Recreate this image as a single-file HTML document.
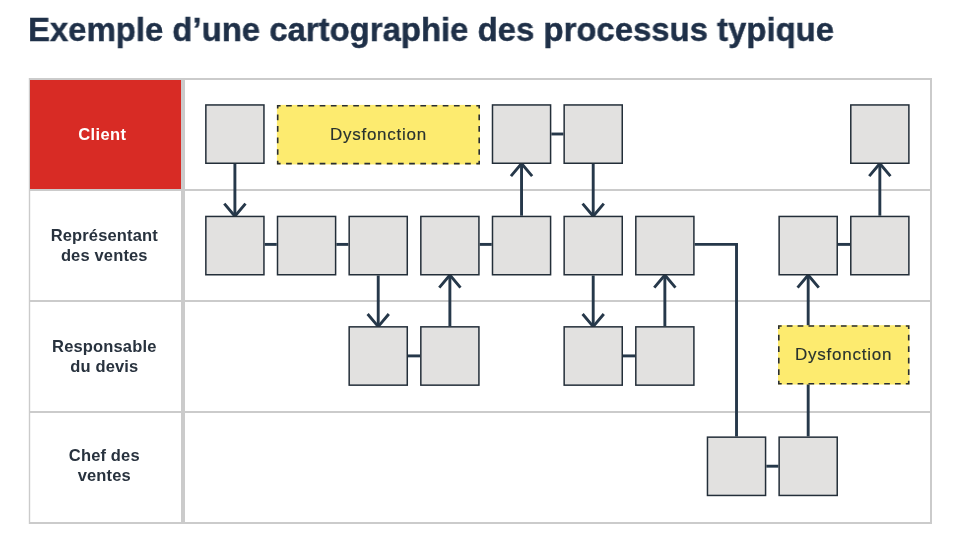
<!DOCTYPE html>
<html><head><meta charset="utf-8"><style>
html,body{margin:0;padding:0;background:#fff;}
body{width:960px;height:540px;position:relative;overflow:hidden;font-family:"Liberation Sans",sans-serif;}
.title,.lab,.dt{will-change:transform;}
svg{position:absolute;left:0;top:0;}
.title{position:absolute;left:28px;top:10.9px;font-weight:bold;font-size:33.4px;color:#1f3048;white-space:nowrap;transform-origin:0 0;transform:scaleX(0.985);-webkit-text-stroke:0.45px #1f3048;}
.lab{position:absolute;left:30px;width:148.6px;text-align:center;font-weight:bold;font-size:16.5px;line-height:19.5px;letter-spacing:0.15px;color:#28323e;}
.dt{position:absolute;height:60px;line-height:62px;text-align:center;font-size:17px;letter-spacing:0.75px;color:#28322f;-webkit-text-stroke:0.15px #28322f;}
</style></head><body>
<div class="title">Exemple d’une cartographie des processus typique</div>
<svg width="960" height="540" viewBox="0 0 960 540">
<rect x="30" y="80" width="151" height="109" fill="#d82b25"/>
<rect x="29" y="78" width="903" height="2" fill="#cbcbcb"/>
<rect x="29" y="189" width="903" height="2" fill="#cbcbcb"/>
<rect x="29" y="300" width="903" height="2" fill="#cbcbcb"/>
<rect x="29" y="411" width="903" height="2" fill="#cbcbcb"/>
<rect x="29" y="522" width="903" height="2" fill="#cbcbcb"/>
<rect x="28.8" y="78" width="1.4" height="446" fill="#cbcbcb"/>
<rect x="930" y="78" width="2" height="446" fill="#cbcbcb"/>
<rect x="181" y="78" width="4" height="446" fill="#cbcbcb"/>
<rect x="30" y="80" width="151" height="109" fill="#d82b25"/>
<line x1="551.34" y1="134.00" x2="563.40" y2="134.00" stroke="#26384a" stroke-width="2.9"/>
<line x1="264.70" y1="244.40" x2="276.76" y2="244.40" stroke="#26384a" stroke-width="2.9"/>
<line x1="336.36" y1="244.40" x2="348.42" y2="244.40" stroke="#26384a" stroke-width="2.9"/>
<line x1="479.68" y1="244.40" x2="491.74" y2="244.40" stroke="#26384a" stroke-width="2.9"/>
<line x1="837.98" y1="244.40" x2="850.04" y2="244.40" stroke="#26384a" stroke-width="2.9"/>
<line x1="408.02" y1="355.90" x2="420.08" y2="355.90" stroke="#26384a" stroke-width="2.9"/>
<line x1="623.00" y1="355.90" x2="635.06" y2="355.90" stroke="#26384a" stroke-width="2.9"/>
<line x1="766.32" y1="466.20" x2="778.38" y2="466.20" stroke="#26384a" stroke-width="2.9"/>
<line x1="234.90" y1="164.00" x2="234.90" y2="215.70" stroke="#26384a" stroke-width="2.9"/><polyline points="224.30,203.60 234.90,216.20 245.50,203.60" fill="none" stroke="#26384a" stroke-width="2.9"/>
<line x1="378.22" y1="275.50" x2="378.22" y2="326.10" stroke="#26384a" stroke-width="2.9"/><polyline points="367.62,314.00 378.22,326.60 388.82,314.00" fill="none" stroke="#26384a" stroke-width="2.9"/>
<line x1="449.88" y1="275.50" x2="449.88" y2="326.10" stroke="#26384a" stroke-width="2.9"/><polyline points="439.28,287.60 449.88,275.00 460.48,287.60" fill="none" stroke="#26384a" stroke-width="2.9"/>
<line x1="521.54" y1="164.00" x2="521.54" y2="215.70" stroke="#26384a" stroke-width="2.9"/><polyline points="510.94,176.10 521.54,163.50 532.14,176.10" fill="none" stroke="#26384a" stroke-width="2.9"/>
<line x1="593.20" y1="164.00" x2="593.20" y2="215.70" stroke="#26384a" stroke-width="2.9"/><polyline points="582.60,203.60 593.20,216.20 603.80,203.60" fill="none" stroke="#26384a" stroke-width="2.9"/>
<line x1="593.20" y1="275.50" x2="593.20" y2="326.10" stroke="#26384a" stroke-width="2.9"/><polyline points="582.60,314.00 593.20,326.60 603.80,314.00" fill="none" stroke="#26384a" stroke-width="2.9"/>
<line x1="664.86" y1="275.50" x2="664.86" y2="326.10" stroke="#26384a" stroke-width="2.9"/><polyline points="654.26,287.60 664.86,275.00 675.46,287.60" fill="none" stroke="#26384a" stroke-width="2.9"/>
<line x1="808.18" y1="275.50" x2="808.18" y2="326.10" stroke="#26384a" stroke-width="2.9"/><polyline points="797.58,287.60 808.18,275.00 818.78,287.60" fill="none" stroke="#26384a" stroke-width="2.9"/>
<line x1="879.84" y1="164.00" x2="879.84" y2="215.70" stroke="#26384a" stroke-width="2.9"/><polyline points="869.24,176.10 879.84,163.50 890.44,176.10" fill="none" stroke="#26384a" stroke-width="2.9"/>
<line x1="808.18" y1="383.5" x2="808.18" y2="436.40" stroke="#26384a" stroke-width="2.9"/>
<polyline points="694.66,244.40 736.52,244.40 736.52,436.40" fill="none" stroke="#26384a" stroke-width="2.9"/>
<rect x="205.85" y="104.95" width="58.10" height="58.30" fill="#e2e1e0" stroke="#232e39" stroke-width="1.5"/>
<rect x="492.49" y="104.95" width="58.10" height="58.30" fill="#e2e1e0" stroke="#232e39" stroke-width="1.5"/>
<rect x="564.15" y="104.95" width="58.10" height="58.30" fill="#e2e1e0" stroke="#232e39" stroke-width="1.5"/>
<rect x="850.79" y="104.95" width="58.10" height="58.30" fill="#e2e1e0" stroke="#232e39" stroke-width="1.5"/>
<rect x="205.85" y="216.45" width="58.10" height="58.30" fill="#e2e1e0" stroke="#232e39" stroke-width="1.5"/>
<rect x="277.51" y="216.45" width="58.10" height="58.30" fill="#e2e1e0" stroke="#232e39" stroke-width="1.5"/>
<rect x="349.17" y="216.45" width="58.10" height="58.30" fill="#e2e1e0" stroke="#232e39" stroke-width="1.5"/>
<rect x="420.83" y="216.45" width="58.10" height="58.30" fill="#e2e1e0" stroke="#232e39" stroke-width="1.5"/>
<rect x="492.49" y="216.45" width="58.10" height="58.30" fill="#e2e1e0" stroke="#232e39" stroke-width="1.5"/>
<rect x="564.15" y="216.45" width="58.10" height="58.30" fill="#e2e1e0" stroke="#232e39" stroke-width="1.5"/>
<rect x="635.81" y="216.45" width="58.10" height="58.30" fill="#e2e1e0" stroke="#232e39" stroke-width="1.5"/>
<rect x="779.13" y="216.45" width="58.10" height="58.30" fill="#e2e1e0" stroke="#232e39" stroke-width="1.5"/>
<rect x="850.79" y="216.45" width="58.10" height="58.30" fill="#e2e1e0" stroke="#232e39" stroke-width="1.5"/>
<rect x="349.17" y="326.85" width="58.10" height="58.30" fill="#e2e1e0" stroke="#232e39" stroke-width="1.5"/>
<rect x="420.83" y="326.85" width="58.10" height="58.30" fill="#e2e1e0" stroke="#232e39" stroke-width="1.5"/>
<rect x="564.15" y="326.85" width="58.10" height="58.30" fill="#e2e1e0" stroke="#232e39" stroke-width="1.5"/>
<rect x="635.81" y="326.85" width="58.10" height="58.30" fill="#e2e1e0" stroke="#232e39" stroke-width="1.5"/>
<rect x="707.47" y="437.15" width="58.10" height="58.30" fill="#e2e1e0" stroke="#232e39" stroke-width="1.5"/>
<rect x="779.13" y="437.15" width="58.10" height="58.30" fill="#e2e1e0" stroke="#232e39" stroke-width="1.5"/>
<rect x="276.90" y="104.90" width="203.10" height="59.50" fill="#fdeb6f"/><path d="M276.90 104.90H280.60v1.6H276.90zM276.90 162.80H280.60v1.6H276.90zM286.09 104.90H291.79v1.6H286.09zM286.09 162.80H291.79v1.6H286.09zM297.28 104.90H302.98v1.6H297.28zM297.28 162.80H302.98v1.6H297.28zM308.47 104.90H314.17v1.6H308.47zM308.47 162.80H314.17v1.6H308.47zM319.66 104.90H325.36v1.6H319.66zM319.66 162.80H325.36v1.6H319.66zM330.84 104.90H336.54v1.6H330.84zM330.84 162.80H336.54v1.6H330.84zM342.03 104.90H347.73v1.6H342.03zM342.03 162.80H347.73v1.6H342.03zM353.22 104.90H358.92v1.6H353.22zM353.22 162.80H358.92v1.6H353.22zM364.41 104.90H370.11v1.6H364.41zM364.41 162.80H370.11v1.6H364.41zM375.60 104.90H381.30v1.6H375.60zM375.60 162.80H381.30v1.6H375.60zM386.79 104.90H392.49v1.6H386.79zM386.79 162.80H392.49v1.6H386.79zM397.98 104.90H403.68v1.6H397.98zM397.98 162.80H403.68v1.6H397.98zM409.17 104.90H414.87v1.6H409.17zM409.17 162.80H414.87v1.6H409.17zM420.36 104.90H426.06v1.6H420.36zM420.36 162.80H426.06v1.6H420.36zM431.54 104.90H437.24v1.6H431.54zM431.54 162.80H437.24v1.6H431.54zM442.73 104.90H448.43v1.6H442.73zM442.73 162.80H448.43v1.6H442.73zM453.92 104.90H459.62v1.6H453.92zM453.92 162.80H459.62v1.6H453.92zM465.11 104.90H470.81v1.6H465.11zM465.11 162.80H470.81v1.6H465.11zM476.30 104.90H480.00v1.6H476.30zM476.30 162.80H480.00v1.6H476.30zM276.90 104.90h1.6V108.60h-1.6zM478.40 104.90h1.6V108.60h-1.6zM276.90 114.46h1.6V120.16h-1.6zM478.40 114.46h1.6V120.16h-1.6zM276.90 126.02h1.6V131.72h-1.6zM478.40 126.02h1.6V131.72h-1.6zM276.90 137.58h1.6V143.28h-1.6zM478.40 137.58h1.6V143.28h-1.6zM276.90 149.14h1.6V154.84h-1.6zM478.40 149.14h1.6V154.84h-1.6zM276.90 160.70h1.6V164.40h-1.6zM478.40 160.70h1.6V164.40h-1.6z" fill="#282d33"/>
<rect x="778.00" y="325.20" width="131.50" height="59.30" fill="#fdeb6f"/><path d="M778.00 325.20H781.70v1.6H778.00zM778.00 382.90H781.70v1.6H778.00zM786.82 325.20H792.52v1.6H786.82zM786.82 382.90H792.52v1.6H786.82zM797.63 325.20H803.33v1.6H797.63zM797.63 382.90H803.33v1.6H797.63zM808.45 325.20H814.15v1.6H808.45zM808.45 382.90H814.15v1.6H808.45zM819.27 325.20H824.97v1.6H819.27zM819.27 382.90H824.97v1.6H819.27zM830.08 325.20H835.78v1.6H830.08zM830.08 382.90H835.78v1.6H830.08zM840.90 325.20H846.60v1.6H840.90zM840.90 382.90H846.60v1.6H840.90zM851.72 325.20H857.42v1.6H851.72zM851.72 382.90H857.42v1.6H851.72zM862.53 325.20H868.23v1.6H862.53zM862.53 382.90H868.23v1.6H862.53zM873.35 325.20H879.05v1.6H873.35zM873.35 382.90H879.05v1.6H873.35zM884.17 325.20H889.87v1.6H884.17zM884.17 382.90H889.87v1.6H884.17zM894.98 325.20H900.68v1.6H894.98zM894.98 382.90H900.68v1.6H894.98zM905.80 325.20H909.50v1.6H905.80zM905.80 382.90H909.50v1.6H905.80zM778.00 325.20h1.6V328.90h-1.6zM907.90 325.20h1.6V328.90h-1.6zM778.00 334.72h1.6V340.42h-1.6zM907.90 334.72h1.6V340.42h-1.6zM778.00 346.24h1.6V351.94h-1.6zM907.90 346.24h1.6V351.94h-1.6zM778.00 357.76h1.6V363.46h-1.6zM907.90 357.76h1.6V363.46h-1.6zM778.00 369.28h1.6V374.98h-1.6zM907.90 369.28h1.6V374.98h-1.6zM778.00 380.80h1.6V384.50h-1.6zM907.90 380.80h1.6V384.50h-1.6z" fill="#282d33"/>
</svg>
<div class="lab" style="top:125px;left:28px;color:#fff;letter-spacing:0.35px;">Client</div>
<div class="lab" style="top:225.6px;">Représentant<br>des ventes</div>
<div class="lab" style="top:336.6px;">Responsable<br>du devis</div>
<div class="lab" style="top:445.6px;">Chef des<br>ventes</div>
<div class="dt" style="left:276.76px;top:104.20px;width:202.92px;">Dysfonction</div>
<div class="dt" style="left:778.38px;top:324.20px;width:131.26px;">Dysfonction</div>
</body></html>
